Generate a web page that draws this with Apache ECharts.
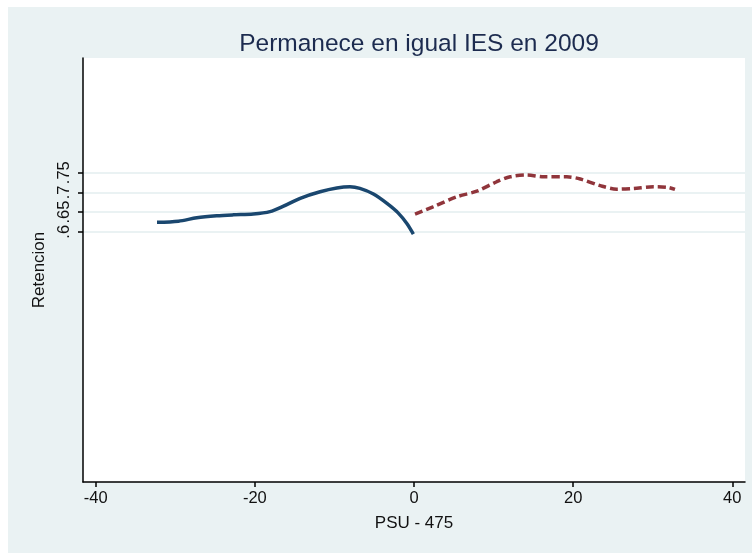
<!DOCTYPE html>
<html>
<head>
<meta charset="utf-8">
<script src="https://cdn.jsdelivr.net/npm/echarts@6/dist/echarts.min.js"></script>
<style>
  html, body { margin: 0; padding: 0; background: #fff; }
  #chart { width: 752px; height: 554px; }
</style>
</head>
<body>
<div id="chart"></div>
<script>
  // left of cutoff (solid) and right of cutoff (dashed)
  const leftX = [-32.3, -29.6, -27.3, -24.8, -22.7, -20.2, -18.1, -16.4, -14.3, -11.8, -9.7, -8.05, -6.8, -5.1, -3.4, -2.0, -0.9, -0.08];
  const leftY = [0.624, 0.627, 0.6355, 0.6406, 0.643, 0.645, 0.651, 0.665, 0.685, 0.7015, 0.711, 0.714, 0.710, 0.6957, 0.672, 0.648, 0.621, 0.594];
  const rightX = [0.13, 2.4, 5.4, 7.9, 10.4, 12.1, 14.2, 16.3, 19.2, 20.9, 23.4, 25.5, 27.6, 30.1, 31.8, 32.8];
  const rightY = [0.645, 0.6635, 0.689, 0.703, 0.727, 0.7396, 0.744, 0.7396, 0.7396, 0.734, 0.717, 0.708, 0.710, 0.714, 0.713, 0.7076];

  const xTicks = [-40, -20, 0, 20, 40];
  const yTicks = [0.6, 0.65, 0.7, 0.75];
  const yTickLabels = ['.6', '.65', '.7', '.75'];

  const font = 'Liberation Sans, Arial, Helvetica, sans-serif';
  const chart = echarts.init(document.getElementById('chart'));

  const pairs = (xs, ys) => xs.map((x, i) => [x, ys[i]]);

  const option = {
    animation: false,
    backgroundColor: '#ffffff',
    graphic: [
      {
        type: 'rect',
        shape: { x: 8, y: 7, width: 744, height: 546 },
        style: { fill: '#eaf2f3' },
        z: -10,
        silent: true
      }
    ],
    title: {
      text: 'Permanece en igual IES en 2009',
      left: 414,
      textAlign: 'center',
      top: 27,
      textStyle: { fontFamily: font, fontSize: 24.5, fontWeight: 'normal', color: '#1c2b4f' }
    },
    grid: {
      left: 83, right: 7, top: 58, bottom: 72,
      show: true, backgroundColor: '#ffffff', borderWidth: 0
    },
    xAxis: {
      type: 'value',
      min: -41.6, max: 41.6,
      name: 'PSU - 475',
      nameLocation: 'middle',
      nameGap: 33,
      nameTextStyle: { fontFamily: font, fontSize: 17, color: '#111' },
      axisLine: { show: true, onZero: false, lineStyle: { color: '#000', width: 1.5 } },
      axisTick: { show: true, length: 5, customValues: xTicks, lineStyle: { color: '#000', width: 1.5 } },
      axisLabel: { customValues: xTicks, margin: 8, fontFamily: font, fontSize: 16.5, color: '#111' },
      splitLine: { show: false }
    },
    yAxis: {
      type: 'value',
      min: -0.035, max: 1.041,
      name: 'Retencion',
      nameLocation: 'middle',
      nameGap: 34,
      nameTextStyle: { fontFamily: font, fontSize: 17, color: '#111' },
      axisLine: { show: true, onZero: false, lineStyle: { color: '#000', width: 1.5 } },
      axisTick: { show: true, length: 5, customValues: yTicks, lineStyle: { color: '#000', width: 1.5 } },
      axisLabel: {
        customValues: yTicks,
        rotate: 90,
        margin: 10,
        fontFamily: font, fontSize: 16.5, color: '#111',
        formatter: v => {
          const i = yTicks.findIndex(t => Math.abs(t - v) < 1e-6);
          return i >= 0 ? yTickLabels[i] : '';
        }
      },
      splitLine: { show: false }
    },
    series: [
      {
        type: 'line',
        data: pairs(leftX, leftY),
        smooth: 0.3,
        showSymbol: false,
        lineStyle: { color: '#1a476f', width: 3.5 },
        markLine: {
          silent: true,
          symbol: ['none', 'none'],
          label: { show: false },
          lineStyle: { color: '#eaf2f3', width: 2, type: 'solid' },
          data: yTicks.map(v => ({ yAxis: v })),
          z: 0
        },
        z: 3
      },
      {
        type: 'line',
        data: pairs(rightX, rightY),
        smooth: 0.3,
        showSymbol: false,
        lineStyle: { color: '#90353b', width: 3.5, type: [8, 4] },
        z: 3
      }
    ]
  };

  chart.setOption(option);
</script>
</body>
</html>
